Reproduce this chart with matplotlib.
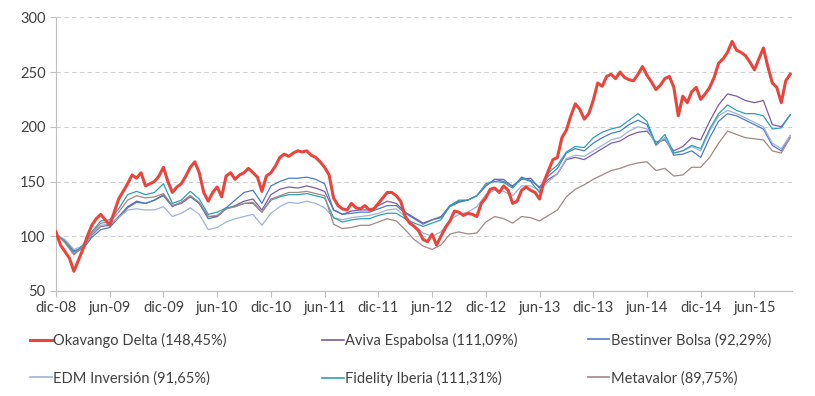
import numpy as np
import matplotlib
matplotlib.use('Agg')
import matplotlib.pyplot as plt
from matplotlib.lines import Line2D

plt.rcParams['font.family'] = ['Lato', 'DejaVu Sans']

# ─────────────────────────────────────────────
# DATOS (base 100, dic-08 .. oct-15)
# ─────────────────────────────────────────────

tick_labels = ['dic-08', 'jun-09', 'dic-09', 'jun-10', 'dic-10', 'jun-11', 'dic-11',
               'jun-12', 'dic-12', 'jun-13', 'dic-13', 'jun-14', 'dic-14', 'jun-15']

# Okavango Delta, un valor cada medio mes
okavango = [104, 92, 86, 80, 68, 78, 88, 100, 110, 116, 120, 115, 110, 122, 134, 141,
            148, 156, 153, 158, 146, 148, 150, 155, 163, 150, 140, 145, 148, 155, 163, 168,
            158, 140, 132, 140, 145, 136, 155, 158, 152, 156, 158, 162, 158, 154, 141, 155,
            158, 164, 172, 175, 173, 176, 178, 177, 178, 174, 172, 168, 163, 156, 135, 128,
            125, 124, 130, 126, 125, 128, 124, 125, 130, 135, 140, 140, 137, 132, 118, 112,
            109, 105, 97, 95, 102, 92, 100, 108, 114, 123, 122, 119, 121, 120, 118, 130,
            135, 143, 144, 140, 146, 142, 130, 132, 142, 145, 142, 140, 134, 150, 160, 170,
            172, 190, 197, 210, 221, 216, 207, 212, 224, 240, 237, 246, 248, 244, 250, 245,
            243, 242, 248, 255, 247, 241, 234, 238, 244, 246, 236, 210, 228, 222, 232, 236,
            225, 230, 236, 245, 258, 262, 268, 278, 270, 268, 265, 259, 252, 262, 272, 255,
            240, 236, 222, 242, 248]

# resto de fondos, un valor por mes
aviva = [102, 95, 86, 90, 101, 109, 110, 118, 127, 132, 130, 133, 138, 128, 130, 136,
         130, 118, 118, 125, 128, 132, 134, 124, 138, 143, 145, 144, 146, 144, 141, 124,
         120, 123, 124, 124, 128, 132, 130, 122, 117, 112, 115, 118, 128, 132, 133, 137,
         146, 152, 150, 146, 152, 153, 144, 152, 157, 170, 172, 170, 175, 180, 185, 187,
         192, 195, 196, 186, 188, 178, 182, 190, 188, 205, 220, 230, 228, 224, 222, 224,
         202, 200, 211]
bestinver = [102, 96, 87, 88, 99, 106, 108, 117, 126, 131, 130, 133, 137, 127, 131, 137,
             130, 116, 118, 126, 133, 140, 142, 130, 146, 150, 153, 153, 154, 152, 148, 124,
             120, 121, 122, 122, 125, 128, 128, 121, 116, 111, 115, 117, 127, 131, 133, 137,
             146, 152, 152, 145, 154, 151, 145, 155, 162, 176, 180, 178, 185, 190, 194, 196,
             202, 206, 202, 183, 190, 174, 175, 178, 172, 190, 205, 212, 210, 206, 202, 198,
             183, 178, 192]
edm = [102, 97, 88, 91, 102, 110, 111, 117, 124, 125, 124, 124, 127, 118, 121, 126,
       120, 106, 108, 113, 116, 118, 120, 110, 121, 127, 131, 130, 132, 130, 126, 117,
       115, 117, 118, 119, 121, 124, 125, 118, 110, 103, 100, 104, 115, 120, 122, 127,
       138, 142, 141, 137, 146, 146, 142, 150, 157, 171, 174, 173, 178, 183, 188, 190,
       196, 200, 198, 184, 190, 176, 178, 182, 178, 196, 210, 215, 212, 208, 204, 200,
       185, 180, 192]
fidelity = [102, 95, 84, 92, 104, 114, 115, 125, 138, 141, 138, 140, 148, 130, 133, 141,
            134, 120, 122, 126, 127, 130, 130, 122, 133, 136, 138, 138, 139, 137, 135, 117,
            113, 115, 116, 116, 119, 121, 121, 116, 112, 109, 112, 115, 128, 133, 133, 137,
            148, 150, 149, 144, 153, 150, 140, 158, 165, 177, 182, 181, 190, 195, 198, 200,
            206, 212, 205, 184, 193, 176, 178, 183, 180, 198, 212, 220, 215, 212, 212, 210,
            198, 199, 211]
metavalor = [102, 94, 83, 90, 103, 112, 113, 122, 133, 137, 135, 136, 139, 128, 131, 137,
             131, 118, 119, 125, 127, 130, 131, 122, 134, 137, 140, 140, 141, 139, 137, 111,
             107, 108, 110, 110, 113, 116, 114, 106, 97, 91, 88, 92, 102, 104, 102, 103,
             113, 118, 116, 112, 118, 117, 114, 119, 124, 136, 143, 147, 152, 156, 160, 162,
             165, 167, 168, 160, 162, 155, 156, 163, 163, 172, 185, 196, 193, 190, 189, 188,
             178, 176, 190]

names = ['Okavango Delta (148,45%)', 'Aviva Espabolsa (111,09%)', 'Bestinver Bolsa (92,29%)',
         'EDM Inversión (91,65%)', 'Fidelity Iberia (111,31%)', 'Metavalor (89,75%)']
colors = ['#E8453C', '#7A5CA6', '#4A7CC6', '#9DB2DC', '#2F9FB1', '#A38783']

x_half = np.arange(len(okavango)) * 0.5
x_month = np.arange(len(aviva))

# ─────────────────────────────────────────────
# GRÁFICO
# ─────────────────────────────────────────────

fig = plt.figure(figsize=(8.15, 3.96), dpi=100)
ax = fig.add_axes([0.0687, 0.2652, 0.9031, 0.6911])

others = [aviva, bestinver, edm, fidelity, metavalor]
for vals, col in zip(others, colors[1:]):
    ax.plot(x_month, vals, color=col, lw=0.9, zorder=3)
ax.plot(x_half, okavango, color=colors[0], lw=2.2, zorder=4)

ax.set_xlim(0, 82.2)
ax.set_ylim(50, 300)
ax.set_yticks(range(50, 301, 50))
ax.set_xticks(np.arange(len(tick_labels)) * 6)
ax.set_xticklabels(tick_labels)
ax.tick_params(axis='both', labelsize=10.5, colors='#404040', length=4, width=0.8)
ax.tick_params(axis='both', color='#BFBFBF')
ax.grid(axis='y', color='#D0D0D0', linestyle=(0, (4, 3)), lw=0.8)
ax.set_axisbelow(True)
for s in ['top', 'right']:
    ax.spines[s].set_visible(False)
for s in ['left', 'bottom']:
    ax.spines[s].set_color('#BFBFBF')

# leyenda: 2 filas x 3 columnas
leg_x = [0.037, 0.395, 0.721]
leg_y = [0.141, 0.045]
for i, (name, col) in enumerate(zip(names, colors)):
    h = Line2D([], [], color=col, lw=2.2 if i == 0 else 1.2)
    fig.legend(handles=[h], labels=[name], loc='center left',
               bbox_to_anchor=(leg_x[i % 3], leg_y[i // 3]), frameon=False,
               handlelength=1.5, handletextpad=0.1, borderaxespad=0, borderpad=0,
               prop={'size': 10.5}, labelcolor='#404040')

plt.savefig('out.png', dpi=100)
